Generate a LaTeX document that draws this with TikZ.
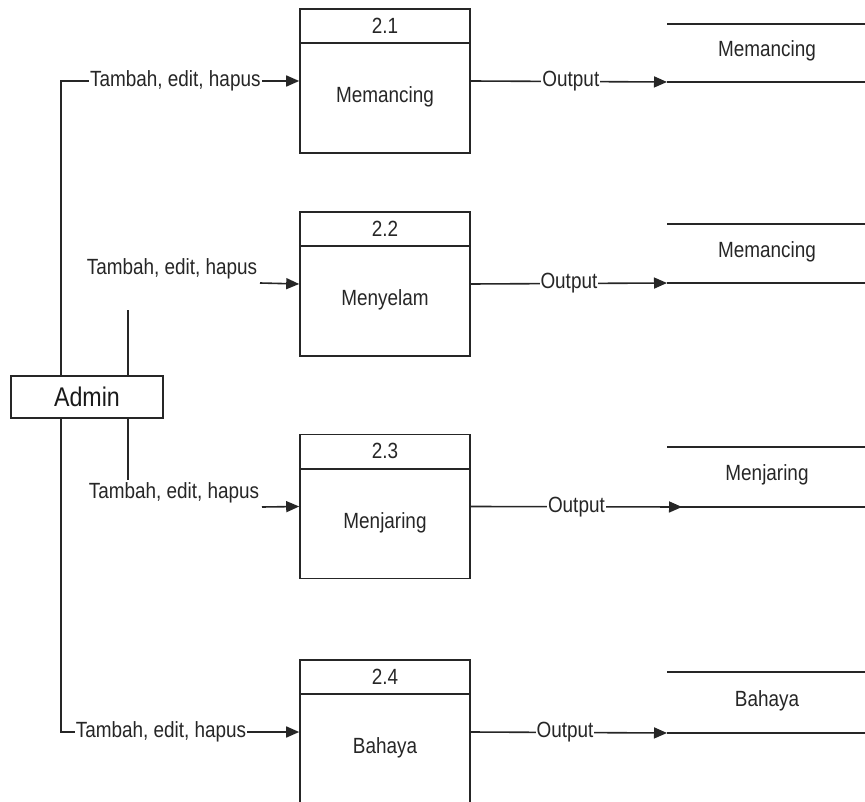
\documentclass[tikz,border=0pt]{standalone}
\usepackage{fontspec}
\setmainfont[FakeStretch=0.86]{Liberation Sans}
\usetikzlibrary{arrows.meta}
\begin{document}
\begin{tikzpicture}[x=1pt,y=-1pt,
  ln/.style={draw=black!85,line width=1.6pt},
  arr/.style={ln,-{Triangle[length=13pt,width=11pt]}},
  proc/.style={ln,rectangle,minimum width=170pt,minimum height=144pt,inner sep=0pt},
  txt/.style={text=black!85,font=\fontsize{22}{24}\selectfont,inner sep=1pt},
  lbl/.style={txt,fill=white},
  entity/.style={ln,rectangle,minimum width=152pt,minimum height=42pt,inner sep=0pt,text=black!90,font=\fontsize{27}{29}\selectfont}]
\useasboundingbox (0,0) rectangle (865,802);
\clip (0,0) rectangle (865,802);
% processes
\node[proc] (p1) at (385,81) {};
\node[proc] (p2) at (385,284) {};
\node[proc] (p3) at (385,506.5) {};
\node[proc] (p4) at (385,732) {};
\foreach \p/\n/\t in {p1/2.1/Memancing,p2/2.2/Menyelam,p3/2.3/Menjaring,p4/2.4/Bahaya}{
  \draw[ln] ([yshift=-35pt]\p.north west) -- ([yshift=-35pt]\p.north east);
  \node[txt] (\p n) at ([yshift=-17.5pt]\p.north) {\n};
  \node[txt] (\p t) at ([yshift=-89pt]\p.north) {\t};
}
% entity
\node[entity] (admin) at (87,397) {Admin};
\coordinate (L) at (61,0);
\coordinate (I) at (128,0);
\coordinate (t2) at (128,310);
\coordinate (t3) at (128,480);
\coordinate (c2) at (260,283);
\coordinate (c3) at (262,507);
\draw[arr] (admin.north -| L) |- node[lbl,pos=0.74] {Tambah, edit, hapus} (p1.west);
\draw[arr] (admin.south -| L) |- node[lbl,pos=0.71] {Tambah, edit, hapus} (p4.west);
\draw[ln] (admin.north -| I) -- (t2);
\draw[ln] (admin.south -| I) -- (t3);
\node[txt] (l2) at (172,269) {Tambah, edit, hapus};
\node[txt] (l3) at (174,493) {Tambah, edit, hapus};
\draw[arr] (c2) -- (p2.west);
\draw[arr] (c3) -- (p3.west);
% data stores
\foreach \s/\top/\bot/\t in {s1/24/82/Memancing,s2/224/283/Memancing,s3/447/507/Menjaring,s4/672/733/Bahaya}{
  \coordinate (\s a) at (667,\top);
  \coordinate (\s b) at (667,\bot);
  \draw[ln] (\s a) -- (865,\top);
  \draw[ln] (\s b) -- (865,\bot);
  \node[txt] (\s t) at (767,{(\top+\bot)/2-2}) {\t};
}
% output flows
\coordinate (e3) at (682,507);
\draw[arr] (p1.east) -- node[lbl,pos=0.51] {Output} (s1b);
\draw[arr] (p2.east) -- node[lbl,pos=0.5] {Output} (s2b);
\draw[arr] (p3.east) -- node[lbl,pos=0.5] {Output} (e3);
\draw[arr] (p4.east) -- node[lbl,pos=0.48] {Output} (s4b);
\end{tikzpicture}
\end{document}
